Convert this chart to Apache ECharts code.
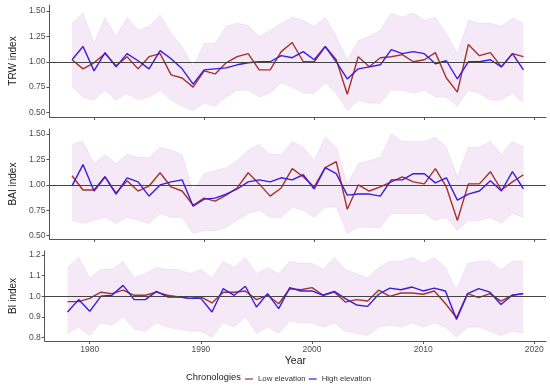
<!DOCTYPE html>
<html><head><meta charset="utf-8">
<script src="https://cdn.jsdelivr.net/npm/echarts@6/dist/echarts.min.js"></script>
<style>html,body{margin:0;padding:0;background:#fff}#c{width:550px;height:386px}</style>
</head><body><div id="c"></div>
<script>
const years = [1978,1979,1980,1981,1982,1983,1984,1985,1986,1987,1988,1989,1990,1991,1992,1993,1994,1995,1996,1997,1998,1999,2000,2001,2002,2003,2004,2005,2006,2007,2008,2009,2010,2011,2012,2013,2014,2015,2016,2017,2018,2019];
const xTicks = [1980,1990,2000,2010,2020];
const trwTicks = [0.5,0.75,1.0,1.25,1.5];
const baiTicks = [0.5,0.75,1.0,1.25,1.5];
const biTicks = [0.8,0.9,1.0,1.1,1.2];

const trwLow = [1.02,0.93,0.99,1.08,0.96,1.05,0.93,1.05,1.08,0.87, 0.84,0.75,0.91,0.88,0.99,1.05,1.08,0.92,0.92,1.10, 1.19,1.00,1.00,1.15,1.02,0.68,1.05,0.95,1.04,1.05, 1.07,1.00,1.02,1.09,0.84,0.70,1.17,1.06,1.09,0.95, 1.08,1.05];
const trwHigh = [1.02,1.15,0.91,1.09,0.95,1.08,1.01,0.93,1.11,1.03, 0.93,0.78,0.92,0.93,0.94,0.97,0.99,1.00,1.00,1.06, 1.04,1.10,1.02,1.15,1.00,0.83,0.93,0.95,0.97,1.12, 1.08,1.10,1.08,0.98,1.01,0.83,1.00,1.00,1.02,0.95, 1.08,0.92];
const trwUpper = [1.38,1.48,1.18,1.44,1.25,1.44,1.31,1.35,1.46,1.28, 1.15,0.95,1.18,1.18,1.35,1.38,1.36,1.25,1.31,1.38, 1.44,1.41,1.35,1.44,1.25,1.02,1.21,1.25,1.31,1.48, 1.44,1.48,1.41,1.44,1.28,1.08,1.41,1.38,1.38,1.35, 1.43,1.38];
const trwLower = [0.75,0.65,0.62,0.72,0.62,0.69,0.62,0.65,0.72,0.62, 0.56,0.52,0.59,0.56,0.65,0.72,0.72,0.65,0.69,0.79, 0.75,0.69,0.69,0.79,0.69,0.52,0.62,0.59,0.59,0.72, 0.72,0.69,0.72,0.65,0.65,0.56,0.72,0.69,0.62,0.62, 0.69,0.59];

const baiLow = [1.09,0.95,0.95,1.08,0.92,1.04,0.94,0.99,1.12,0.98, 0.94,0.80,0.87,0.84,0.90,0.97,1.12,1.01,0.89,0.97, 1.16,1.08,0.98,1.17,1.23,0.76,1.00,0.94,0.98,1.03, 1.08,1.03,1.01,1.16,0.98,0.65,1.01,1.01,1.13,0.95, 1.03,1.10];
const baiHigh = [0.99,1.20,0.94,1.08,0.91,1.07,1.03,0.89,1.00,1.03, 1.05,0.79,0.86,0.87,0.91,0.96,1.03,1.05,1.03,1.07, 1.05,1.10,0.96,1.17,1.11,0.90,0.91,0.91,0.89,1.05, 1.05,1.11,1.11,1.02,1.07,0.85,0.91,0.94,1.04,0.94, 1.13,0.96];
const baiUpper = [1.40,1.43,1.21,1.30,1.21,1.30,1.27,1.27,1.37,1.34, 1.30,0.94,1.11,1.14,1.17,1.24,1.34,1.40,1.30,1.30, 1.43,1.37,1.24,1.47,1.37,1.01,1.21,1.24,1.27,1.50, 1.43,1.43,1.43,1.47,1.37,1.08,1.37,1.37,1.43,1.30, 1.43,1.37];
const baiLower = [0.65,0.62,0.65,0.68,0.62,0.68,0.65,0.62,0.72,0.68, 0.68,0.52,0.55,0.55,0.58,0.65,0.72,0.75,0.68,0.68, 0.78,0.75,0.68,0.78,0.78,0.52,0.58,0.58,0.58,0.72, 0.72,0.72,0.72,0.65,0.68,0.55,0.65,0.65,0.68,0.62, 0.72,0.68];

const biLow = [0.974,0.974,0.99,1.02,1.013,1.03,1.005,1.005,1.02,1.005, 0.997,0.99,0.997,0.968,1.02,1.02,1.026,0.984,1.005,0.964, 1.037,1.032,1.042,1.005,1.021,0.972,0.984,0.977,1.03,1.0, 1.016,1.016,1.01,1.026,0.965,0.896,1.013,0.994,1.013,0.977, 1.005,1.013];
const biHigh = [0.924,0.984,0.927,1.0,1.005,1.053,0.984,0.984,1.024,0.997, 0.997,0.99,0.99,0.924,1.037,1.005,1.049,0.948,1.013,0.94, 1.042,1.026,1.026,1.005,1.024,0.989,0.958,0.951,1.01,1.04, 1.032,1.045,1.026,1.04,1.026,0.888,1.013,1.037,1.02,0.96, 1.005,1.013];
const biUpper = [1.14,1.19,1.09,1.13,1.13,1.17,1.09,1.11,1.14,1.13, 1.13,1.11,1.13,1.09,1.17,1.14,1.19,1.11,1.14,1.11, 1.17,1.16,1.16,1.13,1.19,1.13,1.11,1.09,1.14,1.17, 1.17,1.19,1.16,1.19,1.14,1.03,1.16,1.17,1.17,1.13, 1.17,1.17];
const biLower = [0.82,0.85,0.81,0.87,0.86,0.90,0.84,0.83,0.87,0.85, 0.84,0.83,0.83,0.80,0.87,0.85,0.90,0.82,0.85,0.82, 0.88,0.87,0.87,0.85,0.87,0.83,0.82,0.81,0.85,0.86, 0.85,0.87,0.85,0.87,0.85,0.80,0.85,0.85,0.83,0.81, 0.83,0.82];

const panels = [
  {name:'TRW index', low:trwLow, high:trwHigh, up:trwUpper, lo:trwLower, ticks:trwTicks, dec:2, min:0.455, max:1.56, top:5, h:112},
  {name:'BAI index', low:baiLow, high:baiHigh, up:baiUpper, lo:baiLower, ticks:baiTicks, dec:2, min:0.468, max:1.55, top:129, h:110},
  {name:'BI index', low:biLow, high:biHigh, up:biUpper, lo:biLower, ticks:biTicks, dec:1, min:0.783, max:1.22, top:251, h:90}
];
const pair = arr => arr.map((v,i)=>[years[i], v]);
const FONT = 'Liberation Sans, Arial, sans-serif';
const grids=[], xAxes=[], yAxes=[], series=[];
panels.forEach((p,i)=>{
  grids.push({left:35, right:4, top:p.top, height:p.h});
  xAxes.push({type:'value', gridIndex:i, min:1975.95, max:2021.05, splitLine:{show:false},
    axisLine:{lineStyle:{color:'#555', width:1}},
    axisTick:{show:true, length:3, customValues:xTicks, lineStyle:{color:'#555'}},
    axisLabel:{show:i===2, customValues:xTicks, formatter:v=>String(v), fontSize:8.5, color:'#4d4d4d', fontFamily:FONT, margin:4},
    name: i===2 ? 'Year' : '', nameLocation:'middle', nameGap:15,
    nameTextStyle:{fontSize:10.5, color:'#1a1a1a', fontFamily:FONT}});
  yAxes.push({type:'value', gridIndex:i, min:p.min, max:p.max, splitLine:{show:false},
    axisLine:{show:true, lineStyle:{color:'#555', width:1}},
    axisTick:{show:true, length:3, customValues:p.ticks, lineStyle:{color:'#555'}},
    axisLabel:{customValues:p.ticks, formatter:v=>v.toFixed(p.dec), fontSize:8.5, color:'#4d4d4d', fontFamily:FONT, margin:4},
    name:p.name, nameLocation:'middle', nameGap:26, nameRotate:90,
    nameTextStyle:{fontSize:10, color:'#1a1a1a', fontFamily:FONT}});
  const bandData = years.map((y,k)=>[y, p.lo[k], p.up[k]]);
  series.push({type:'custom', xAxisIndex:i, yAxisIndex:i, data:bandData, silent:true, z:1,
    encode:{x:0, y:[1,2]},
    renderItem:(params, api)=>{
      if (params.dataIndex !== 0) return null;
      const top=[], bot=[];
      for (let k=0;k<bandData.length;k++){
        top.push(api.coord([bandData[k][0], bandData[k][2]]));
        bot.push(api.coord([bandData[k][0], bandData[k][1]]));
      }
      const poly = top.concat(bot.slice().reverse());
      return {type:'group', children:[
        {type:'polygon', shape:{points:poly}, style:{fill:'rgba(218,168,226,0.26)', stroke:'none'}},
        {type:'polyline', shape:{points:top}, style:{stroke:'rgba(190,160,235,0.3)', lineWidth:0.6, fill:null}},
        {type:'polyline', shape:{points:bot}, style:{stroke:'rgba(235,160,195,0.3)', lineWidth:0.6, fill:null}}
      ]};
    }});
  series.push({type:'line', name:'Low elevation', xAxisIndex:i, yAxisIndex:i, data:pair(p.low), symbol:'none', z:3,
    lineStyle:{width:1.4, color:'#a3342a'}, itemStyle:{color:'#a3342a'},
    markLine:{silent:true, symbol:'none', label:{show:false}, lineStyle:{color:'#444', width:1, type:'solid'}, data:[{yAxis:1}]}});
  series.push({type:'line', name:'High elevation', xAxisIndex:i, yAxisIndex:i, data:pair(p.high), symbol:'none', z:4,
    lineStyle:{width:1.4, color:'#3b1be0'}, itemStyle:{color:'#3b1be0'}});
});
const chart = echarts.init(document.getElementById('c'), null, {renderer:'canvas'});
chart.setOption({
  animation:false,
  grid:grids, xAxis:xAxes, yAxis:yAxes, series:series,
  legend:{data:['Low elevation','High elevation'], left:240, top:370, icon:'rect', itemWidth:8, itemHeight:1.2, itemGap:3,
    textStyle:{fontSize:7.8, color:'#333', fontFamily:FONT}},
  graphic:[{type:'text', left:186, top:373, style:{text:'Chronologies', fontSize:9.3, fill:'#1a1a1a', fontFamily:FONT}}]
});
</script></body></html>
